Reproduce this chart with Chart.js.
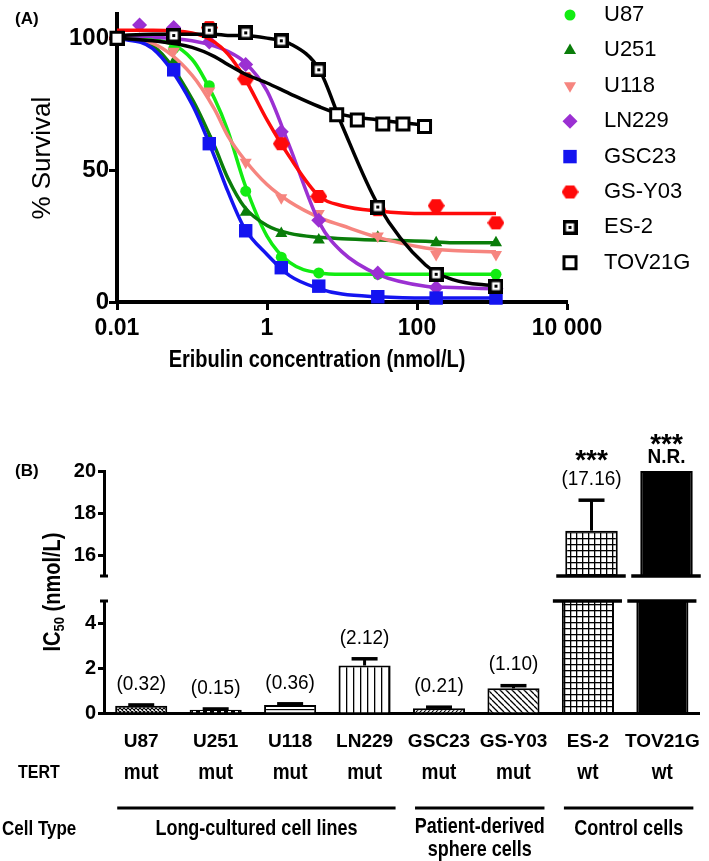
<!DOCTYPE html>
<html>
<head>
<meta charset="utf-8">
<script src="https://cdn.jsdelivr.net/npm/chart.js"></script>
<style>
html, body { margin: 0; background: #fff; }
#wrap { position: relative; width: 709px; height: 861px; overflow: hidden; }
#wrap canvas { position: absolute; left: 0; }
</style>
</head>
<body>
<div id="wrap">
  <canvas id="grafA" width="709" height="400" style="top:0"></canvas>
  <canvas id="grafB" width="709" height="461" style="top:400px"></canvas>
  <canvas id="grafBtop" width="709" height="190" style="top:400px"></canvas>
</div>
<script>
// ---------- (A) dose-response data ----------
var cellLines = ['U87', 'U251', 'U118', 'LN229', 'GSC23', 'GS-Y03', 'ES-2', 'TOV21G'];

var doses     = [0.01, 0.02, 0.057, 0.17, 0.52, 1.55, 4.9, 30, 180, 1130];
var survU87   = [100, null, 96, 82, 42, 17, 11, 10.5, 10.5, 10.5];
var survU251  = [100, null, 91, 62, 34, 26, 23.5, 24.5, 22.5, 22.5];
var survU118  = [100, null, 95, 80, 53, 39.5, 33.5, 25, 18, 18];
var survLN229 = [null, 105, 104, 98.5, 90, 64.5, 31, 11, 5.5, 5];
var survGSC23 = [100, null, 88, 60, 27, 13, 6, 2, 1.5, 1.5];
var survGSY03 = [100, null, null, 104, 84.6, 60, 40, 35, 36.5, 30];
var survES2   = [100, null, 101, 103, 102, 99, 88, 36, 10.5, 6];
var dosesTOV  = [0.01, 8.5, 16, 35, 65, 126];
var survTOV   = [100, 71, 69, 67.5, 67.5, 66.5];

// fitted curves
var fitDoses = [0.01, 0.03, 0.1, 0.2, 0.3, 0.5, 1, 2, 5, 10, 30, 130, 300, 1130];
var fitU87   = [100, 99.5, 92, 77, 65, 45, 25, 15, 11, 10.5, 10.5, 10.5, 10.5, 10.5];
var fitU251  = [100, 97, 77, 59, 47, 36, 29, 26, 24.5, 24, 23.5, 23, 22.5, 22.5];
var fitU118  = [100, 98, 86, 73, 63, 54, 44.5, 38, 32, 29, 24.5, 20.5, 19.5, 19];
var fitLN229 = [101, 100.5, 99, 97, 95, 91, 80, 59, 30, 19, 10.5, 6, 5.5, 5];
var fitGSC23 = [100, 96, 75, 55, 42, 28, 18, 10, 5, 3, 2, 1.5, 1.5, 1.5];
var fitGSY03 = [103, 103, 102, 98.5, 94, 85, 69, 55, 40, 36.5, 34.5, 33.5, 33.5, 33.5];
var fitES2   = [101, 101.5, 101.5, 101.5, 101, 101, 100, 98, 88, 67, 37, 14, 8.5, 6];
var fitTOV   = [100, 99, 96.5, 93, 90, 86.5, 83, 79, 74, 71, 69, 67, null, null];

var xTickValues = [0.01, 1, 100, 10000];
var xTickLabels = ['0.01', '1', '100', '10 000'];
var yTickValues = [0, 50, 100];

// ---------- (B) IC50 data ----------
var ic50      = [0.32, 0.15, 0.36, 2.12, 0.21, 1.10, 17.16, 20];   // TOV21G: not reached, drawn to axis top
var ic50Err   = [0.04, 0.03, 0.05, 0.30, 0.05, 0.12, 1.45, 0];
var ic50Text  = ['(0.32)', '(0.15)', '(0.36)', '(2.12)', '(0.21)', '(1.10)', '(17.16)', 'N.R.'];
var sigText   = ['', '', '', '', '', '', '***', '***'];
var tert      = ['mut', 'mut', 'mut', 'mut', 'mut', 'mut', 'wt', 'wt'];
var cellTypes = ['Long-cultured cell lines', 'Patient-derived|sphere cells', 'Control cells'];
var cellTypeSpan = [[0, 3], [4, 5], [6, 7]];
var rowTitles = ['TERT', 'Cell Type'];
var lowTicks  = [0, 2, 4];
var highTicks = [16, 18, 20];

// ---------- fonts ----------
var SANS = '"Liberation Sans", Arial, sans-serif';
Chart.defaults.font.family = SANS;
Chart.defaults.color = '#000';

// text drawn a little taller than wide, as in the original figure
function text(g, str, x, y, font, align, base, sy) {
  g.save();
  g.translate(x, y);
  g.scale(1, sy || 1);
  g.font = font;
  g.textAlign = align || 'center';
  g.textBaseline = base || 'middle';
  g.fillStyle = '#000';
  g.fillText(str, 0, 0);
  g.restore();
}
function line(g, x1, y1, x2, y2, w) {
  g.beginPath();
  g.lineWidth = w;
  g.strokeStyle = '#000';
  g.moveTo(x1, y1);
  g.lineTo(x2, y2);
  g.stroke();
}
function tile(w, h, draw) {
  var c = document.createElement('canvas');
  c.width = w; c.height = h;
  draw(c.getContext('2d'), w, h);
  return c;
}

// ---------- markers ----------
var hexMark = tile(17, 15, function (g) {
  g.fillStyle = '#ff0a0a';
  g.beginPath();
  for (var k = 0; k < 6; k++) {
    var a = k * Math.PI / 3;
    g.lineTo(8.5 + 8.5 * Math.cos(a), 7.5 + 7.4 * Math.sin(a));
  }
  g.closePath();
  g.fill();
});
var es2Mark = tile(15, 15, function (g) {
  g.fillStyle = '#000'; g.fillRect(0, 0, 15, 15);
  g.fillStyle = '#fff'; g.fillRect(3.5, 3.5, 8, 8);
  g.fillStyle = '#000'; g.fillRect(6, 6, 3, 3);
});

var series = [
  {name: cellLines[0], dose: doses, surv: survU87, fit: fitU87, color: '#12ec12', shape: 'circle', r: 5.5},
  {name: cellLines[1], dose: doses, surv: survU251, fit: fitU251, color: '#0a7d0a', shape: 'triangle', r: 7},
  {name: cellLines[2], dose: doses, surv: survU118, fit: fitU118, color: '#f6857f', shape: 'triangle', r: 7, rot: 180},
  {name: cellLines[3], dose: doses, surv: survLN229, fit: fitLN229, color: '#9b30d2', shape: 'rectRot', r: 7.5},
  {name: cellLines[4], dose: doses, surv: survGSC23, fit: fitGSC23, color: '#1414f0', shape: 'rect', r: 9.5},
  {name: cellLines[5], dose: doses, surv: survGSY03, fit: fitGSY03, color: '#ff0a0a', shape: hexMark, r: 8},
  {name: cellLines[6], dose: doses, surv: survES2, fit: fitES2, color: '#000', shape: es2Mark, r: 8},
  {name: cellLines[7], dose: dosesTOV, surv: survTOV, fit: fitTOV, color: '#000', shape: 'rect', r: 8.5, open: true}
];

function drawMarker(g, s, x, y) {
  if (typeof s.shape !== 'string') {
    g.drawImage(s.shape, x - s.shape.width / 2, y - s.shape.height / 2);
    return;
  }
  var r = s.r;
  g.save();
  g.translate(x, y);
  g.rotate((s.rot || 0) * Math.PI / 180);
  g.beginPath();
  if (s.shape === 'circle') g.arc(0, 0, r, 0, 2 * Math.PI);
  else if (s.shape === 'triangle') {
    g.moveTo(0, -r);
    g.lineTo(r * Math.sin(2 * Math.PI / 3), -r * Math.cos(2 * Math.PI / 3));
    g.lineTo(r * Math.sin(4 * Math.PI / 3), -r * Math.cos(4 * Math.PI / 3));
    g.closePath();
  } else if (s.shape === 'rectRot') {
    g.moveTo(-r, 0); g.lineTo(0, -r); g.lineTo(r, 0); g.lineTo(0, r); g.closePath();
  } else {
    var h = r * Math.SQRT1_2;
    g.rect(-h, -h, 2 * h, 2 * h);
  }
  g.fillStyle = s.open ? '#fff' : s.color;
  g.fill();
  if (s.open) { g.lineWidth = 3; g.strokeStyle = s.color; g.stroke(); }
  g.restore();
}

function pairs(xs, ys) {
  var out = [];
  xs.forEach(function (x, i) { if (ys[i] != null) out.push({x: x, y: ys[i]}); });
  return out;
}

// last series on top: push from last to first, symbols above their own curve
var datasetsA = [];
for (var k = series.length - 1; k >= 0; k--) {
  var s = series[k];
  datasetsA.push({
    label: s.name, data: pairs(s.dose, s.surv), showLine: false, clip: false,
    pointStyle: s.shape, pointRadius: s.r, pointRotation: s.rot || 0,
    pointBackgroundColor: s.open ? '#fff' : s.color, pointBorderColor: s.color,
    pointBorderWidth: s.open ? 3 : 0
  });
  datasetsA.push({
    label: s.name + ' fit', data: pairs(fitDoses, s.fit), showLine: true, clip: false,
    borderColor: s.color, borderWidth: 3.5, pointRadius: 0,
    cubicInterpolationMode: 'monotone', fill: false
  });
}

var panelA = {
  id: 'panelA',
  afterDraw: function (chart) {
    var g = chart.ctx;
    text(g, '(A)', 15, 19, 'bold 17px ' + SANS, 'left');
    text(g, 'Eribulin concentration (nmol/L)', 317, 360, 'bold 20px ' + SANS, 'center', 'middle', 1.2);
    series.forEach(function (s, i) {
      var y = 15 + i * 35.4;
      drawMarker(g, s, 570, y);
      text(g, s.name, 604, y, '22px ' + SANS, 'left');
    });
  }
};

new Chart(document.getElementById('grafA'), {
  type: 'line',
  data: {datasets: datasetsA},
  options: {
    responsive: false, animation: false, devicePixelRatio: 1, events: [],
    layout: {padding: {left: 0, top: 3, right: 142, bottom: 0}},
    plugins: {legend: {display: false}, tooltip: {enabled: false}},
    scales: {
      x: {
        type: 'logarithmic', min: 0.01, max: 10000,
        afterBuildTicks: function (sc) { sc.ticks = xTickValues.map(function (v) { return {value: v}; }); },
        ticks: {
          callback: function (v, i) { return xTickLabels[i]; },
          font: {size: 23, weight: 'bold'}, color: '#000', padding: 5, autoSkip: false, maxRotation: 0
        },
        grid: {display: true, drawOnChartArea: false, drawTicks: true, tickLength: 8, tickWidth: 3, tickColor: '#000'},
        border: {display: true, color: '#000', width: 4},
        afterFit: function (sc) { sc.height = 98; }
      },
      y: {
        min: 0, max: 109,
        afterBuildTicks: function (sc) { sc.ticks = yTickValues.map(function (v) { return {value: v}; }); },
        ticks: {font: {size: 24, weight: 'bold'}, color: '#000', padding: 0},
        grid: {display: true, drawOnChartArea: false, drawTicks: true, tickLength: 8, tickWidth: 3, tickColor: '#000'},
        border: {display: true, color: '#000', width: 4},
        title: {display: true, text: '% Survival', color: '#000', font: {size: 26, weight: 'normal'}, padding: {top: 27, bottom: 0}},
        afterFit: function (sc) { sc.width = 117; }
      }
    }
  },
  plugins: [panelA]
});

// ---------- (B) bar patterns ----------
function diag(size, back, lw) {
  return tile(size, size, function (g) {
    g.fillStyle = '#fff'; g.fillRect(0, 0, size, size);
    g.strokeStyle = '#000'; g.lineWidth = lw;
    g.beginPath();
    [-size, 0, size].forEach(function (o) {
      if (back) { g.moveTo(o, 0); g.lineTo(o + size, size); }
      else { g.moveTo(o, size); g.lineTo(o + size, 0); }
    });
    g.stroke();
  });
}
function barFills(g) {
  var tiles = [
    tile(4, 4, function (t) {      // fine cross-hatch
      t.fillStyle = '#fff'; t.fillRect(0, 0, 4, 4);
      t.strokeStyle = '#000'; t.lineWidth = 1.1;
      t.beginPath(); t.moveTo(0, 0); t.lineTo(4, 4); t.moveTo(4, 0); t.lineTo(0, 4); t.stroke();
    }),
    tile(7, 3, function (t) {      // dashes
      t.fillStyle = '#fff'; t.fillRect(0, 0, 7, 3);
      t.fillStyle = '#000'; t.fillRect(0, 0, 4, 3);
    }),
    tile(4, 6, function (t) {      // horizontal lines
      t.fillStyle = '#fff'; t.fillRect(0, 0, 4, 6);
      t.fillStyle = '#000'; t.fillRect(0, 3, 4, 1.2);
    }),
    tile(7, 4, function (t) {      // vertical lines
      t.fillStyle = '#fff'; t.fillRect(0, 0, 7, 4);
      t.fillStyle = '#000'; t.fillRect(3, 0, 1.3, 4);
    }),
    diag(4, false, 1.2),
    diag(6, true, 1.3),
    tile(6, 6, function (t) {      // square grid
      t.fillStyle = '#fff'; t.fillRect(0, 0, 6, 6);
      t.fillStyle = '#000'; t.fillRect(0, 0, 6, 1.3); t.fillRect(0, 0, 1.3, 6);
    })
  ];
  return tiles.map(function (t) { return g.createPattern(t, 'repeat'); }).concat(['#000']);
}

function errorBar(g, x, y0, top) {
  if (y0 - top > 1) line(g, x, y0, x, top, 3);
  line(g, x - 13, top, x + 13, top, 3.5);
}

function drawValueLabels(g, i, x, top) {
  var nr = ic50Text[i] === 'N.R.';
  var ly = top - (nr ? 14 : 21);
  text(g, ic50Text[i], x, ly, nr ? 'bold 19px ' + SANS : '19px ' + SANS, 'center', 'middle', 1.1);
  if (sigText[i]) text(g, sigText[i], x, ly - (nr ? 20 : 26) + 16, 'bold 28px ' + SANS, 'center', 'alphabetic');
}

var lowerNotes = {
  id: 'lowerNotes',
  afterDatasetsDraw: function (chart) {
    var g = chart.ctx, area = chart.chartArea, ys = chart.scales.y;
    chart.getDatasetMeta(0).data.forEach(function (bar, i) {
      var half = bar.width / 2;
      if (ic50[i] > ys.max) {           // broken bar
        line(g, bar.x - half - 9, area.top, bar.x + half + 8, area.top, 3.5);
        return;
      }
      var top = ys.getPixelForValue(ic50[i] + ic50Err[i]);
      errorBar(g, bar.x, bar.y, top);
      drawValueLabels(g, i, bar.x, top);
    });
    line(g, area.left - 4, area.top, area.left + 4, area.top, 3);
  },
  afterDraw: function (chart) {
    var g = chart.ctx, xs = chart.scales.x;
    var rowFont = 'bold 18px ' + SANS;
    text(g, rowTitles[0], 18, 373, 'bold 16px ' + SANS, 'left', 'middle', 1.2);
    tert.forEach(function (t, i) { text(g, t, xs.getPixelForValue(i), 373, 'bold 19px ' + SANS, 'center', 'middle', 1.2); });
    text(g, rowTitles[1], 2, 429, 'bold 17px ' + SANS, 'left', 'middle', 1.2);
    cellTypeSpan.forEach(function (sp, k) {
      var x1 = xs.getPixelForValue(sp[0]) - 24, x2 = xs.getPixelForValue(sp[1]) + 31;
      var cx = (x1 + x2) / 2;
      line(g, x1, 408, x2, 408, 3);
      var parts = cellTypes[k].split('|');
      if (parts.length === 1) text(g, parts[0], cx, 429, rowFont, 'center', 'middle', 1.2);
      else {
        text(g, parts[0], cx, 427, rowFont, 'center', 'middle', 1.2);
        text(g, parts[1], cx, 450, rowFont, 'center', 'middle', 1.2);
      }
    });
    // y title with subscript
    g.save();
    g.translate(54, 192);
    g.rotate(-Math.PI / 2);
    var fBig = 'bold 20px ' + SANS, fSmall = 'bold 13px ' + SANS;
    g.font = fBig; var w1 = g.measureText('IC').width, w3 = g.measureText(' (nmol/L)').width;
    g.font = fSmall; var w2 = g.measureText('50').width;
    var sx = -(w1 + w2 + w3) / 2;
    text(g, 'IC', sx, 0, fBig, 'left', 'middle', 1.15);
    text(g, '50', sx + w1, 6, fSmall, 'left', 'middle', 1.15);
    text(g, ' (nmol/L)', sx + w1 + w2, 0, fBig, 'left', 'middle', 1.15);
    g.restore();
  }
};

var upperNotes = {
  id: 'upperNotes',
  afterDatasetsDraw: function (chart) {
    var g = chart.ctx, area = chart.chartArea, ys = chart.scales.y;
    chart.getDatasetMeta(0).data.forEach(function (bar, i) {
      if (ic50[i] < ys.min) return;
      var half = bar.width / 2;
      line(g, bar.x - half - 9, area.bottom, bar.x + half + 8, area.bottom, 3.5);
      var top = ys.getPixelForValue(Math.min(ic50[i] + ic50Err[i], ys.max));
      if (ic50Err[i] > 0) errorBar(g, bar.x, bar.y, top);
      drawValueLabels(g, i, bar.x, top);
    });
    line(g, area.left - 4, area.bottom, area.left + 4, area.bottom, 3);
    text(g, '(B)', 15, 71, 'bold 17px ' + SANS, 'left');
  }
};

function yAxisB(min, max, tickList) {
  return {
    min: min, max: max,
    afterBuildTicks: function (sc) { sc.ticks = tickList.map(function (v) { return {value: v}; }); },
    ticks: {font: {size: 20, weight: 'bold'}, color: '#000', padding: 2},
    grid: {display: true, drawOnChartArea: false, drawTicks: true, tickLength: 6, tickWidth: 3, tickColor: '#000'},
    border: {display: true, color: '#000', width: 3},
    afterFit: function (sc) { sc.width = 104; }
  };
}

var canB = document.getElementById('grafB');
new Chart(canB, {
  type: 'bar',
  data: {
    labels: cellLines,
    datasets: [{
      data: ic50, backgroundColor: barFills(canB.getContext('2d')), borderColor: '#000', borderWidth: 2,
      barPercentage: 0.7, categoryPercentage: 1, clip: 0
    }]
  },
  options: {
    responsive: false, animation: false, devicePixelRatio: 1, events: [],
    layout: {padding: {left: 0, top: 201, right: 5, bottom: 0}},
    plugins: {legend: {display: false}, tooltip: {enabled: false}},
    scales: {
      x: {
        ticks: {font: {size: 19, weight: 'bold'}, color: '#000', padding: 9, autoSkip: false, maxRotation: 0},
        grid: {display: false},
        border: {display: true, color: '#000', width: 3},
        afterFit: function (sc) { sc.height = 148; }
      },
      y: yAxisB(0, 5, lowTicks)
    }
  },
  plugins: [lowerNotes]
});

var canBtop = document.getElementById('grafBtop');
new Chart(canBtop, {
  type: 'bar',
  data: {
    labels: cellLines,
    datasets: [{
      data: ic50, backgroundColor: barFills(canBtop.getContext('2d')), borderColor: '#000', borderWidth: 2,
      barPercentage: 0.7, categoryPercentage: 1, clip: 0
    }]
  },
  options: {
    responsive: false, animation: false, devicePixelRatio: 1, events: [],
    layout: {padding: {left: 0, top: 71, right: 5, bottom: 7}},
    plugins: {legend: {display: false}, tooltip: {enabled: false}},
    scales: {
      x: {display: false},
      y: yAxisB(15, 20, highTicks)
    }
  },
  plugins: [upperNotes]
});
</script>
</body>
</html>
